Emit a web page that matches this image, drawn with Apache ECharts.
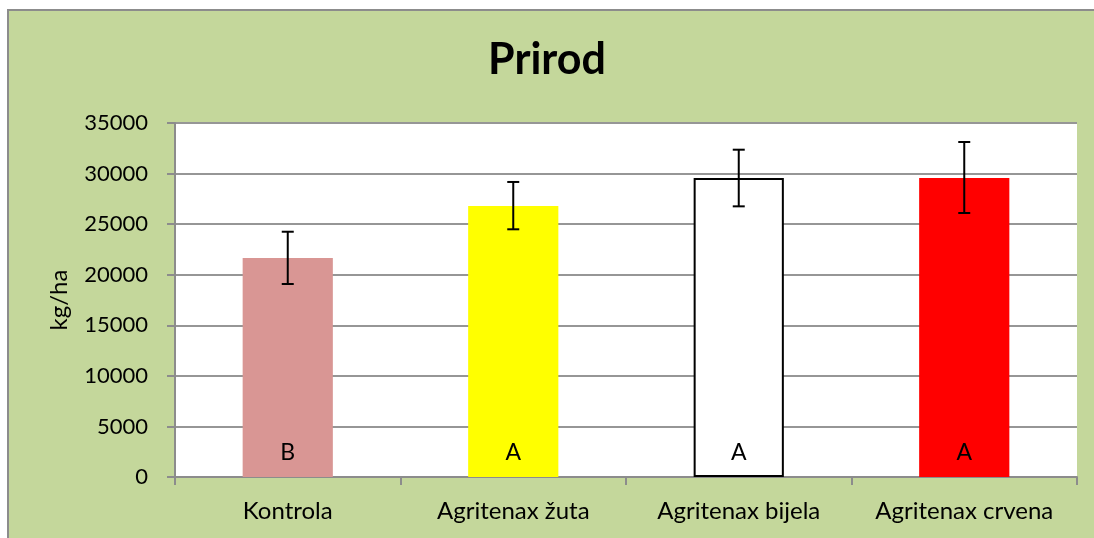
<!DOCTYPE html>
<html>
<head>
<meta charset="utf-8">
<script src="https://cdn.jsdelivr.net/npm/echarts@6/dist/echarts.min.js"></script>
<style>
  html, body { margin: 0; padding: 0; background: #fff; }
  #main { width: 1094px; height: 538px; }
</style>
</head>
<body>
<div id="main"></div>
<script>
// podaci očitani sa slike
var categories = ['Kontrola', 'Agritenax žuta', 'Agritenax bijela', 'Agritenax crvena'];
var yieldValues = [21650, 26800, 29570, 29550];
var errLow = [19080, 24490, 26760, 26100];
var errHigh = [24250, 29170, 32360, 33120];
var letters = ['B', 'A', 'A', 'A'];
var barColors = ['#D99694', '#FFFF00', '#FFFFFF', '#FF0000'];
var yTicks = [0, 5000, 10000, 15000, 20000, 25000, 30000, 35000];

var font = 'Lato, "Liberation Sans", sans-serif';

var myChart = echarts.init(document.getElementById('main'));

var barData = yieldValues.map(function (v, i) {
    return {
        value: v,
        itemStyle: {
            color: barColors[i],
            borderColor: i === 2 ? '#000' : barColors[i],
            borderWidth: i === 2 ? 2 : 0
        },
        label: { formatter: letters[i] }
    };
});

var errData = categories.map(function (c, i) {
    return [i, errLow[i], errHigh[i]];
});

let option = {
    animation: false,
    backgroundColor: '#fff',
    graphic: [{
        type: 'rect',
        z: -10,
        silent: true,
        shape: { x: 8, y: 10, width: 1200, height: 700 },
        style: { fill: '#C4D79B', stroke: '#8C8C8C', lineWidth: 2 }
    }],
    title: {
        text: 'Prirod',
        left: 'center',
        top: 34,
        textStyle: { fontFamily: font, fontSize: 43, fontWeight: 'bold', color: '#000' }
    },
    grid: {
        left: 175, top: 123, right: 17, bottom: 61,
        show: true, backgroundColor: '#fff', borderWidth: 0
    },
    xAxis: {
        type: 'category',
        data: categories,
        axisLine: { lineStyle: { color: '#8C8C8C', width: 2 } },
        axisTick: { show: true, interval: 0, length: 8, lineStyle: { color: '#8C8C8C', width: 2 } },
        axisLabel: { color: '#000', fontFamily: font, fontSize: 24, margin: 22, interval: 0, hideOverlap: false }
    },
    yAxis: {
        type: 'value',
        min: 0,
        max: 35000,
        interval: 5000,
        name: 'kg/ha',
        nameLocation: 'middle',
        nameRotate: 90,
        nameGap: 104,
        nameTextStyle: { color: '#000', fontFamily: font, fontSize: 24 },
        axisLine: { show: true, lineStyle: { color: '#8C8C8C', width: 2 } },
        axisTick: { show: true, length: 8, lineStyle: { color: '#8C8C8C', width: 2 } },
        axisLabel: {
            color: '#000', fontFamily: font, fontSize: 22, margin: 27,
            customValues: yTicks,
            formatter: function (v) { return String(v); }
        },
        splitLine: { lineStyle: { color: '#969696', width: 2 } }
    },
    series: [
        {
            type: 'bar',
            data: barData,
            barWidth: '40%',
            label: {
                show: true,
                position: 'insideBottom',
                distance: 13,
                color: '#000',
                fontFamily: font,
                fontSize: 23
            },
            z: 2
        },
        {
            type: 'custom',
            data: errData,
            z: 5,
            renderItem: function (params, api) {
                var x = api.value(0);
                var lo = api.coord([x, api.value(1)]);
                var hi = api.coord([x, api.value(2)]);
                var cap = 6;
                var st = { stroke: '#000', lineWidth: 2 };
                return {
                    type: 'group',
                    children: [
                        { type: 'line', shape: { x1: hi[0], y1: hi[1], x2: lo[0], y2: lo[1] }, style: st },
                        { type: 'line', shape: { x1: hi[0] - cap, y1: hi[1], x2: hi[0] + cap, y2: hi[1] }, style: st },
                        { type: 'line', shape: { x1: lo[0] - cap, y1: lo[1], x2: lo[0] + cap, y2: lo[1] }, style: st }
                    ]
                };
            }
        }
    ]
};

myChart.setOption(option);
</script>
</body>
</html>
